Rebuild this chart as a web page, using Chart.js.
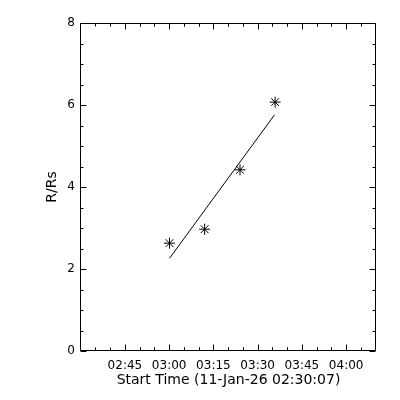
<!DOCTYPE html>
<html>
<head>
<meta charset="utf-8">
<script src="https://cdn.jsdelivr.net/npm/chart.js@4"></script>
<style>
  html, body { margin: 0; padding: 0; background: #fff; }
  #wrap { width: 400px; height: 400px; }
</style>
</head>
<body>
<div id="wrap"><canvas id="chart"></canvas></div>
<script>
// x values are minutes after the start time 02:30:07
const tickMinutes = [14.883, 29.883, 44.883, 59.883, 74.883, 89.883];
const tickLabels = ['02:45', '03:00', '03:15', '03:30', '03:45', '04:00'];
const obsMinutes = [30.0, 41.9, 53.9, 65.8];
const obsR = [2.63, 2.97, 4.42, 6.07];
const fitMinutes = [30.0, 65.6];
const fitR = [2.26, 5.76];

const tickFont = { family: 'DejaVu Sans', size: 12 };
const titleFont = { family: 'DejaVu Sans', size: 14 };

/* ===== FRAME + INWARD TICKS ===== */
const boxTicks = {
    id: 'boxTicks',
    afterDraw(chart) {
        const c = chart.ctx;
        const a = chart.chartArea;
        const xs = chart.scales.x;
        const ys = chart.scales.y;
        const L = Math.round(a.left) - 0.5, R = Math.round(a.right) - 0.5;
        const T = Math.round(a.top) + 0.5, B = Math.round(a.bottom) - 0.5;
        c.save();
        c.strokeStyle = '#000';
        c.lineWidth = 1;
        c.beginPath();
        c.rect(L, T, R - L, B - T);

        const xTick = (v, len) => {
            const px = Math.round(xs.getPixelForValue(v)) + 0.5;
            c.moveTo(px, B); c.lineTo(px, B - len);
            c.moveTo(px, T); c.lineTo(px, T + len);
        };
        tickMinutes.forEach(v => {
            xTick(v, 6);
            [-10, -5, 5, 10].forEach(d => {
                const m = v + d;
                if (m > xs.min && m < xs.max - 1 && tickMinutes.indexOf(m) < 0) xTick(m, 3);
            });
        });

        for (let v = ys.min; v <= ys.max; v += 0.5) {
            const py = Math.round(ys.getPixelForValue(v)) + 0.5;
            const len = (v % 2 === 0) ? 6 : 3;
            c.moveTo(L, py); c.lineTo(L + len, py);
            c.moveTo(R, py); c.lineTo(R - len, py);
        }
        c.stroke();
        c.restore();
    }
};

const ctx = document.getElementById('chart').getContext('2d');

const chart = new Chart(ctx, {
    type: 'scatter',
    data: {
        datasets: [
            {
                label: 'R/Rs',
                data: obsMinutes.map((m, i) => ({ x: m, y: obsR[i] })),
                showLine: false,
                pointStyle: 'star',
                pointRadius: 5.5,
                borderColor: '#000',
                backgroundColor: '#000',
                borderWidth: 1
            },
            {
                label: 'fit',
                data: fitMinutes.map((m, i) => ({ x: m, y: fitR[i] })),
                showLine: true,
                pointRadius: 0,
                borderColor: '#000',
                borderWidth: 1
            }
        ]
    },
    options: {
        responsive: true,
        maintainAspectRatio: false,
        animation: false,
        devicePixelRatio: 1,
        layout: { padding: { left: 40, right: 24, top: 23, bottom: 0 } },
        plugins: { legend: { display: false }, tooltip: { enabled: false } },
        scales: {
            x: {
                type: 'linear',
                min: 0,
                max: 100,
                afterBuildTicks: s => { s.ticks = tickMinutes.map(v => ({ value: v })); },
                afterFit: s => { s.height = 49; },
                grid: { display: false, drawTicks: false },
                border: { display: false },
                ticks: {
                    autoSkip: false,
                    maxRotation: 0,
                    padding: 8,
                    color: '#000',
                    font: tickFont,
                    callback: v => tickLabels[tickMinutes.indexOf(v)]
                },
                title: {
                    display: true,
                    text: 'Start Time (11-Jan-26 02:30:07)',
                    color: '#000',
                    font: titleFont,
                    padding: { top: 0, bottom: 11 }
                }
            },
            y: {
                min: 0,
                max: 8,
                afterFit: s => { s.width = 41; },
                grid: { display: false, drawTicks: false },
                border: { display: false },
                ticks: {
                    stepSize: 2,
                    padding: 6,
                    color: '#000',
                    font: tickFont
                },
                title: {
                    display: true,
                    text: 'R/Rs',
                    color: '#000',
                    font: titleFont,
                    padding: { top: 4, bottom: 0 }
                }
            }
        }
    },
    plugins: [boxTicks]
});
</script>
</body>
</html>
